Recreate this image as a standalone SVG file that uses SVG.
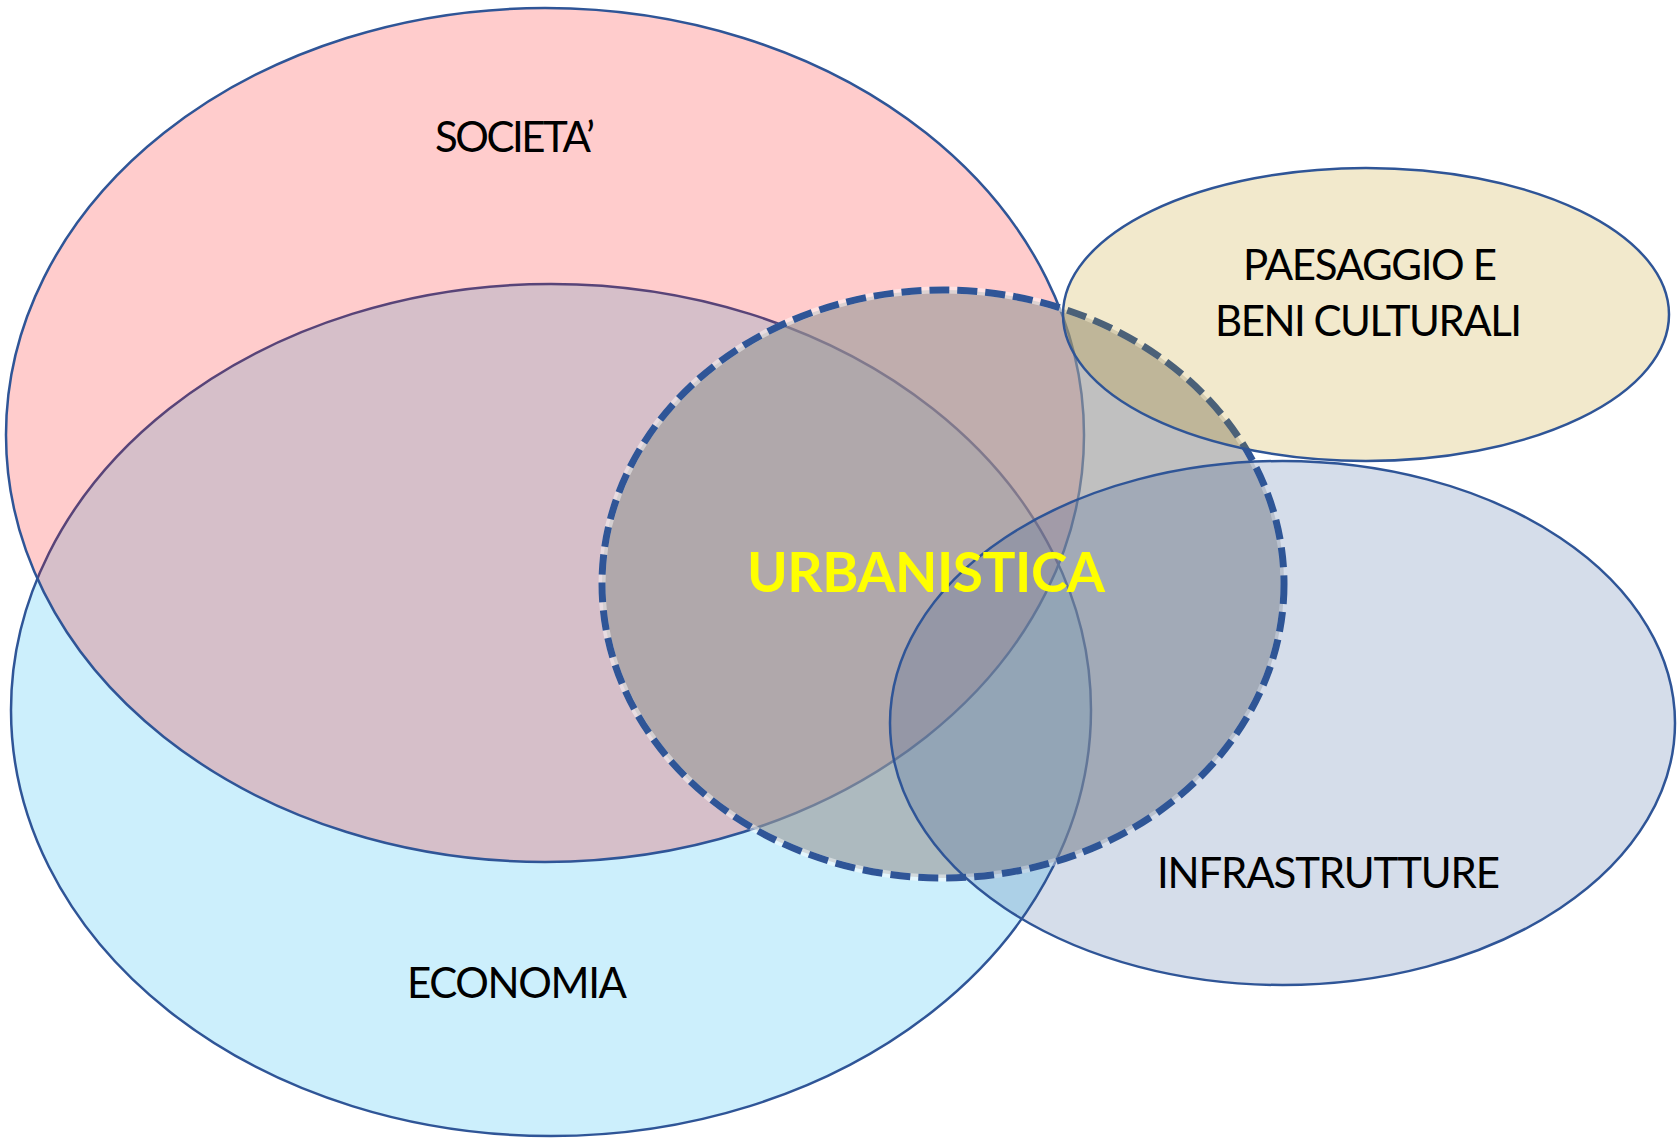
<svg xmlns="http://www.w3.org/2000/svg" width="1678" height="1139" viewBox="0 0 1678 1139">
<style>
  .outline { stroke: #2F5597; stroke-width: 2.5; }
  .lbl { font-family: Lato, "Open Sans", "Liberation Sans", sans-serif; font-size: 42px; fill: #000000; text-anchor: middle; }
  .main { font-family: Lato, "Open Sans", "Liberation Sans", sans-serif; font-size: 55px; font-weight: bold; fill: #FFFF00; text-anchor: middle; }
</style>
<rect x="0" y="0" width="1678" height="1139" fill="#FFFFFF"/>
<g id="economia">
  <ellipse cx="551" cy="710" rx="540" ry="426" fill="#00B0F0" fill-opacity="0.2" class="outline"/>
  <text class="lbl" x="517" y="998" textLength="220">ECONOMIA</text>
</g>
<g id="societa">
  <ellipse cx="545" cy="435" rx="539" ry="427" fill="#FF0000" fill-opacity="0.2" class="outline"/>
  <text class="lbl" x="515" y="152" textLength="160">SOCIETA’</text>
</g>
<g id="urbanistica">
  <ellipse cx="943" cy="584" rx="341" ry="294" fill="#999999" fill-opacity="0.62" stroke="#FFFFFF" stroke-opacity="0.45" stroke-width="7"/>
  <ellipse cx="943" cy="584" rx="341" ry="294" fill="none" stroke="#2F5597" stroke-width="7" stroke-dasharray="20 8"/>
</g>
<g id="paesaggio">
  <ellipse cx="1366" cy="314.5" rx="303" ry="146.5" fill="#BF8F00" fill-opacity="0.2" class="outline"/>
  <text class="lbl" x="1370" y="280" textLength="254">PAESAGGIO E</text>
  <text class="lbl" x="1368.5" y="336" textLength="307">BENI CULTURALI</text>
</g>
<g id="infrastrutture">
  <ellipse cx="1282.5" cy="723" rx="392.5" ry="262" fill="#2F5597" fill-opacity="0.2" class="outline"/>
  <text class="lbl" x="1328.5" y="888" textLength="343">INFRASTRUTTURE</text>
</g>
<g id="urbanistica-label">
  <text class="main" x="926" y="592" textLength="358">URBANISTICA</text>
</g>
<g id="connectors"></g>
</svg>
